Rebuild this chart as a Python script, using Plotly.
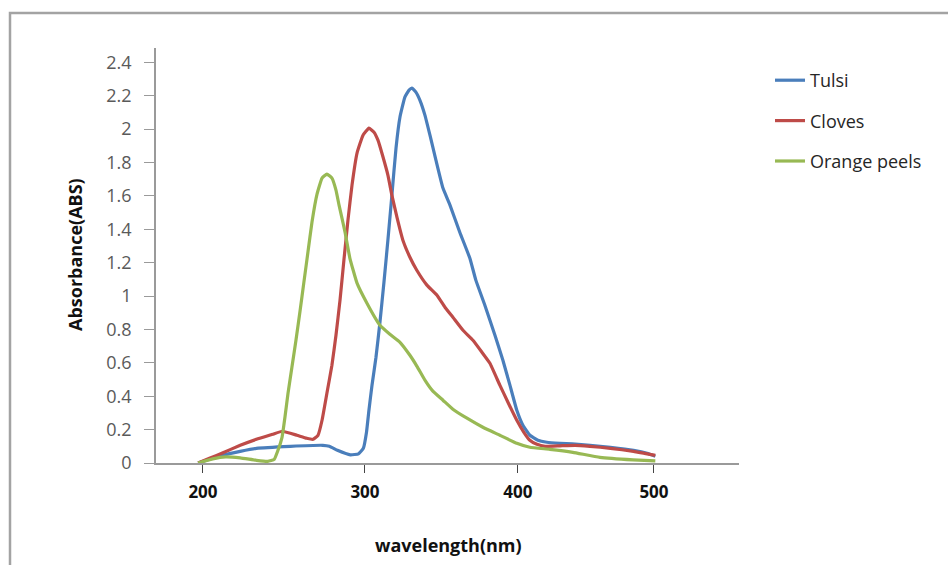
import numpy as np
import plotly.graph_objects as go

# Absorbance spectra (wavelength in nm, absorbance in ABS)
tulsi_nm = [197, 212, 223, 233, 254, 274, 278, 283, 291, 296, 299, 301, 302.6, 304.6,
            307.2, 309.8, 312.4, 315, 317.6, 320.3, 322.9, 326.1, 328.8, 330.7, 333.3,
            335.9, 339.2, 342.5, 346.4, 351, 355.6, 362, 368.6, 372.5, 378.4, 385, 390.2,
            394.8, 399.3, 403.7, 408.8, 414.7, 421.3, 431, 440, 453, 468, 485, 495, 501]
tulsi_abs = [0.0, 0.046, 0.07, 0.088, 0.1, 0.106, 0.1, 0.076, 0.049, 0.055, 0.088, 0.184,
             0.316, 0.466, 0.633, 0.843, 1.081, 1.334, 1.603, 1.886, 2.072, 2.191, 2.233,
             2.245, 2.221, 2.173, 2.083, 1.963, 1.814, 1.646, 1.544, 1.382, 1.226, 1.095,
             0.945, 0.765, 0.615, 0.466, 0.316, 0.226, 0.166, 0.136, 0.124, 0.118, 0.115,
             0.106, 0.094, 0.076, 0.058, 0.04]

cloves_nm = [197, 204, 212, 223, 233, 243, 249, 258, 264, 268, 271, 273.5, 276.5, 279.6,
             282.1, 284.6, 287, 289.5, 292, 295.1, 298.8, 302.6, 305.9, 308.5, 311.8, 315,
             317.6, 320.9, 324.8, 329.4, 333.9, 340.5, 347.1, 352.3, 357.5, 364.1, 370.6,
             376.5, 381.7, 388.2, 393.5, 399.3, 404.4, 408.8, 414, 420, 431, 442, 453, 468,
             485, 493, 501]
cloves_abs = [0.0, 0.028, 0.06, 0.106, 0.142, 0.172, 0.19, 0.166, 0.148, 0.142, 0.166,
              0.256, 0.418, 0.585, 0.765, 0.975, 1.215, 1.454, 1.664, 1.856, 1.963, 2.005,
              1.981, 1.933, 1.832, 1.724, 1.604, 1.472, 1.334, 1.232, 1.154, 1.065, 1.005,
              0.933, 0.873, 0.795, 0.735, 0.663, 0.597, 0.466, 0.364, 0.256, 0.184, 0.136,
              0.112, 0.1, 0.103, 0.106, 0.1, 0.088, 0.07, 0.058, 0.046]

orange_nm = [197, 206, 214, 223, 233, 240, 244, 246.3, 248.8, 250.6, 252.5, 254.9, 257.4,
             259.9, 262.3, 264.8, 267.3, 270.4, 273.5, 276.5, 279.6, 282.1, 284, 285.8,
             287.7, 290.7, 295.1, 301.3, 309.8, 316.3, 322.9, 329.4, 334, 339.2, 344.4, 351,
             357.5, 366.7, 377.1, 388.2, 399.3, 408.8, 423.5, 440.4, 460.3, 484.6, 501]
orange_abs = [0.0, 0.025, 0.037, 0.031, 0.016, 0.01, 0.022, 0.076, 0.154, 0.274, 0.418,
              0.573, 0.735, 0.909, 1.083, 1.263, 1.443, 1.61, 1.706, 1.73, 1.706, 1.634,
              1.544, 1.466, 1.382, 1.226, 1.077, 0.957, 0.825, 0.771, 0.723, 0.645, 0.579,
              0.496, 0.43, 0.376, 0.322, 0.268, 0.214, 0.166, 0.118, 0.094, 0.082, 0.064,
              0.034, 0.019, 0.013]

series_names = ["Tulsi", "Cloves", "Orange peels"]
series_colors = ["#4a7ebb", "#be4b48", "#98b954"]

# Category-style wavelength axis: labelled wavelengths and the slot each sits at
x_tick_labels = [200, 300, 400, 500]
x_tick_slots = [0.0, 1.0, 1.944, 2.784]
y_tick_vals = [0, 0.2, 0.4, 0.6, 0.8, 1, 1.2, 1.4, 1.6, 1.8, 2, 2.2, 2.4]


def to_slot(nm):
    """Map wavelength to axis slot, extending the end segments linearly."""
    nm = np.asarray(nm, dtype=float)
    lab = np.asarray(x_tick_labels, dtype=float)
    pos = np.asarray(x_tick_slots, dtype=float)
    out = np.interp(nm, lab, pos)
    lo = nm < lab[0]
    hi = nm > lab[-1]
    out[lo] = pos[0] + (nm[lo] - lab[0]) * (pos[1] - pos[0]) / (lab[1] - lab[0])
    out[hi] = pos[-1] + (nm[hi] - lab[-1]) * (pos[-1] - pos[-2]) / (lab[-1] - lab[-2])
    return out


W, H = 948, 565
ML, MR, MT, MB = 156, 209, 48, 102
PW, PH = W - ML - MR, H - MT - MB

fig = go.Figure()
for name, color, xs, ys in zip(series_names, series_colors,
                               [tulsi_nm, cloves_nm, orange_nm],
                               [tulsi_abs, cloves_abs, orange_abs]):
    fig.add_trace(go.Scatter(
        x=to_slot(xs), y=ys, name=name, mode="lines",
        line=dict(color=color, width=3.2, shape="spline", smoothing=0.35),
        legendgroup=name,
    ))


def px_x(px):
    return (px - ML) / PW


def px_y(py):
    return (H - MB - py) / PH


fig.update_layout(
    width=W, height=H,
    margin=dict(l=ML, r=MR, t=MT, b=MB),
    paper_bgcolor="white", plot_bgcolor="white",
    font=dict(family="Open Sans, sans-serif", color="#333"),
    showlegend=True,
    legend=dict(
        x=px_x(770), y=px_y(62), xanchor="left", yanchor="top",
        xref="paper", yref="paper",
        font=dict(size=18, color="#262626"),
        tracegroupgap=14, bgcolor="rgba(0,0,0,0)",
        itemclick=False,
    ),
    xaxis=dict(
        range=[-0.290, 3.309],
        tickmode="array", tickvals=x_tick_slots, ticktext=[str(v) for v in x_tick_labels],
        tickfont=dict(size=17, color="#111", family="Open Sans, sans-serif", weight="bold"),
        ticks="outside", ticklen=8, tickcolor="#444", tickwidth=1,
        ticklabelstandoff=5,
        showline=True, linecolor="#9a9a9a", linewidth=1.5,
        showgrid=False, zeroline=False, fixedrange=True,
    ),
    yaxis=dict(
        range=[0, 2.485],
        tickmode="array", tickvals=y_tick_vals,
        ticktext=[("%g" % v) for v in y_tick_vals],
        tickfont=dict(size=18, color="#5a5a5a"),
        ticks="outside", ticklen=10, tickcolor="#9a9a9a", tickwidth=1,
        ticklabelstandoff=9,
        showline=True, linecolor="#9a9a9a", linewidth=1.5,
        showgrid=False, zeroline=False, fixedrange=True,
    ),
    annotations=[
        dict(text="wavelength(nm)", xref="paper", yref="paper",
             x=px_x(448), y=px_y(545), xanchor="center", yanchor="middle",
             showarrow=False,
             font=dict(size=18, color="#111", family="Open Sans, sans-serif", weight="bold")),
        dict(text="Absorbance(ABS)", xref="paper", yref="paper",
             x=px_x(75), y=px_y(255), xanchor="center", yanchor="middle",
             textangle=-90, showarrow=False,
             font=dict(size=18, color="#111", family="Open Sans, sans-serif", weight="bold")),
    ],
    shapes=[
        dict(type="rect", xref="paper", yref="paper",
             x0=px_x(10), x1=px_x(960), y0=px_y(580), y1=px_y(13),
             line=dict(color="#a3a3a3", width=2.5), fillcolor="rgba(0,0,0,0)", layer="below"),
    ],
)

fig.write_html("out.html")
